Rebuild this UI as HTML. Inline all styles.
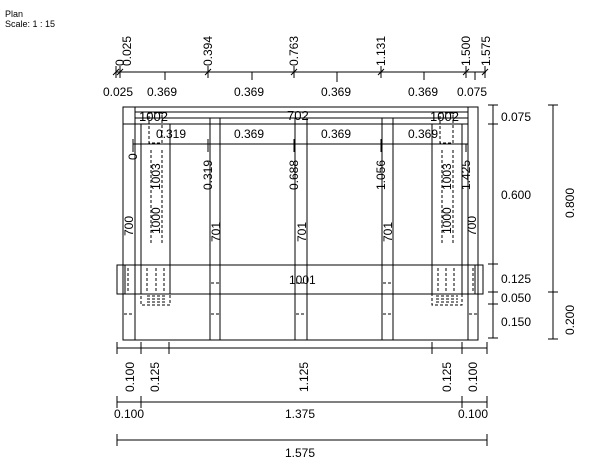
<!DOCTYPE html>
<html><head><style>body{margin:0;background:#fff}svg{display:block}text{font-family:"Liberation Sans",Arial,sans-serif;font-size:12px;fill:#000}</style></head><body>
<svg width="615" height="472" viewBox="0 0 615 472" xmlns="http://www.w3.org/2000/svg">
<text x="5" y="17" style="font-size:9px">Plan</text>
<text x="5" y="27" style="font-size:9px">Scale:  1 : 15</text>
<g stroke="#000" stroke-width="1" fill="none">
<line x1="116" y1="72" x2="486" y2="72"/>
<g>
<line x1="116" y1="66" x2="116" y2="78"/><line x1="113" y1="75" x2="119" y2="69"/>
<line x1="120" y1="66" x2="120" y2="78"/><line x1="117" y1="75" x2="123" y2="69"/>
<line x1="208" y1="66" x2="208" y2="78"/><line x1="205" y1="75" x2="211" y2="69"/>
<line x1="294" y1="66" x2="294" y2="78"/><line x1="291" y1="75" x2="297" y2="69"/>
<line x1="381" y1="66" x2="381" y2="78"/><line x1="378" y1="75" x2="384" y2="69"/>
<line x1="466" y1="66" x2="466" y2="78"/><line x1="463" y1="75" x2="469" y2="69"/>
<line x1="485" y1="66" x2="485" y2="78"/><line x1="482" y1="75" x2="488" y2="69"/>
<line x1="165" y1="72" x2="165" y2="80"/><line x1="252" y1="72" x2="252" y2="80"/><line x1="337" y1="72" x2="337" y2="82"/><line x1="424" y1="72" x2="424" y2="80"/><line x1="475" y1="72" x2="475" y2="80"/>
</g>
<rect x="123" y="107" width="355" height="233"/>
<line x1="135" y1="107" x2="135" y2="340"/>
<line x1="468" y1="107" x2="468" y2="340"/>
<line x1="135" y1="112" x2="468" y2="112"/>
<line x1="135" y1="118" x2="468" y2="118"/>
<line x1="135" y1="124" x2="468" y2="124"/>
<line x1="123" y1="124" x2="135" y2="124"/>
<rect x="210" y="118" width="10" height="222"/>
<rect x="295" y="118" width="12" height="222"/>
<rect x="382" y="118" width="11" height="222"/>
<rect x="141" y="124" width="29" height="170"/>
<rect x="432" y="124" width="30" height="170"/>
<g stroke-dasharray="3,2">
<rect x="149" y="113" width="13" height="30"/>
<rect x="440" y="113" width="13" height="30"/>
<line x1="151" y1="150" x2="151" y2="245"/><line x1="162" y1="150" x2="162" y2="245"/>
<line x1="442" y1="150" x2="442" y2="245"/><line x1="453" y1="150" x2="453" y2="245"/>
<rect x="141" y="294" width="29" height="11"/>
<rect x="432" y="294" width="30" height="11"/>
<line x1="147" y1="296" x2="167" y2="296"/><line x1="147" y1="299" x2="167" y2="299"/><line x1="147" y1="302" x2="167" y2="302"/>
<line x1="436" y1="296" x2="458" y2="296"/><line x1="436" y1="299" x2="458" y2="299"/><line x1="436" y1="302" x2="458" y2="302"/>
<line x1="128" y1="268" x2="128" y2="292"/><line x1="147" y1="268" x2="147" y2="292"/><line x1="156" y1="268" x2="156" y2="292"/><line x1="164" y1="268" x2="164" y2="292"/>
<line x1="438" y1="268" x2="438" y2="292"/><line x1="446" y1="268" x2="446" y2="292"/><line x1="454" y1="268" x2="454" y2="292"/><line x1="473" y1="268" x2="473" y2="292"/>
<line x1="124" y1="314" x2="134" y2="314"/><line x1="211" y1="283" x2="219" y2="283"/><line x1="211" y1="314" x2="219" y2="314"/>
<line x1="296" y1="283" x2="306" y2="283"/><line x1="296" y1="314" x2="306" y2="314"/>
<line x1="383" y1="283" x2="392" y2="283"/><line x1="383" y1="314" x2="392" y2="314"/>
<line x1="469" y1="314" x2="477" y2="314"/>
</g>
<line x1="117" y1="265" x2="483" y2="265"/>
<line x1="117" y1="294" x2="483" y2="294"/>
<rect x="117" y="265" width="8" height="29"/>
<rect x="475" y="265" width="8" height="29"/>
<line x1="133" y1="144" x2="468" y2="144"/>
<line x1="133" y1="139" x2="133" y2="149"/><line x1="208" y1="139" x2="208" y2="149"/><line x1="294" y1="139" x2="294" y2="149"/><line x1="381" y1="139" x2="381" y2="149"/><line x1="468" y1="139" x2="468" y2="149"/>
<line x1="133" y1="144" x2="133" y2="152"/><line x1="208" y1="144" x2="208" y2="152"/><line x1="294" y1="144" x2="294" y2="152"/><line x1="381" y1="144" x2="381" y2="152"/><line x1="466" y1="144" x2="466" y2="152"/>
<line x1="493" y1="105" x2="493" y2="338"/>
<line x1="488" y1="105" x2="498" y2="105"/><line x1="488" y1="124" x2="498" y2="124"/><line x1="488" y1="264" x2="498" y2="264"/><line x1="488" y1="292" x2="498" y2="292"/><line x1="488" y1="304" x2="498" y2="304"/><line x1="488" y1="338" x2="498" y2="338"/>
<line x1="553" y1="105" x2="553" y2="339"/>
<line x1="548" y1="105" x2="558" y2="105"/><line x1="548" y1="292" x2="558" y2="292"/><line x1="548" y1="339" x2="558" y2="339"/>
<line x1="117" y1="348" x2="487" y2="348"/>
<line x1="117" y1="342" x2="117" y2="354"/><line x1="141" y1="342" x2="141" y2="354"/><line x1="169" y1="342" x2="169" y2="354"/><line x1="432" y1="342" x2="432" y2="354"/><line x1="462" y1="342" x2="462" y2="354"/><line x1="487" y1="342" x2="487" y2="354"/>
<line x1="117" y1="402" x2="487" y2="402"/>
<line x1="117" y1="396" x2="117" y2="408"/><line x1="141" y1="396" x2="141" y2="408"/><line x1="462" y1="396" x2="462" y2="408"/><line x1="487" y1="396" x2="487" y2="408"/>
<line x1="117" y1="440" x2="487" y2="440"/>
<line x1="117" y1="434" x2="117" y2="446"/><line x1="487" y1="434" x2="487" y2="446"/>
</g>
<g style="font-size:13px">
<text transform="translate(124,66) rotate(-90)">0</text>
<text transform="translate(131,66) rotate(-90)">0.025</text>
<text transform="translate(212,66) rotate(-90)">0.394</text>
<text transform="translate(298,66) rotate(-90)">0.763</text>
<text transform="translate(385,66) rotate(-90)">1.131</text>
<text transform="translate(470,66) rotate(-90)">1.500</text>
<text transform="translate(490,66) rotate(-90)">1.575</text>
</g>
<text x="103" y="96">0.025</text>
<text x="147" y="96">0.369</text>
<text x="234" y="96">0.369</text>
<text x="321" y="96">0.369</text>
<text x="408" y="96">0.369</text>
<text x="457" y="96">0.075</text>
<text x="139" y="121" style="font-size:13px">1002</text>
<text x="287" y="120" style="font-size:13px">702</text>
<text x="430" y="121" style="font-size:13px">1002</text>
<text x="156" y="138">0.319</text>
<text x="234" y="138">0.369</text>
<text x="321" y="138">0.369</text>
<text x="408" y="138">0.369</text>
<g style="font-size:13px">
<text transform="translate(137,160) rotate(-90)">0</text>
<text transform="translate(212,190) rotate(-90)">0.319</text>
<text transform="translate(298,190) rotate(-90)">0.688</text>
<text transform="translate(385,190) rotate(-90)">1.056</text>
<text transform="translate(470,190) rotate(-90)">1.425</text>
<text transform="translate(160,190) rotate(-90)">1003</text>
<text transform="translate(160,234) rotate(-90)">1000</text>
<text transform="translate(451,190) rotate(-90)">1003</text>
<text transform="translate(451,234) rotate(-90)">1000</text>
<text transform="translate(133,236) rotate(-90)">700</text>
<text transform="translate(476,236) rotate(-90)">700</text>
<text transform="translate(220,242) rotate(-90)">701</text>
<text transform="translate(306,242) rotate(-90)">701</text>
<text transform="translate(392,242) rotate(-90)">701</text>
<text x="289" y="284">1001</text>
</g>
<text x="501" y="121">0.075</text>
<text x="501" y="199">0.600</text>
<text x="501" y="283">0.125</text>
<text x="501" y="302">0.050</text>
<text x="501" y="326">0.150</text>
<text transform="translate(574,218) rotate(-90)">0.800</text>
<text transform="translate(574,335) rotate(-90)">0.200</text>
<text transform="translate(134,392) rotate(-90)">0.100</text>
<text transform="translate(159,392) rotate(-90)">0.125</text>
<text transform="translate(308,392) rotate(-90)">1.125</text>
<text transform="translate(451,392) rotate(-90)">0.125</text>
<text transform="translate(477,392) rotate(-90)">0.100</text>
<text x="114" y="418">0.100</text>
<text x="285" y="418">1.375</text>
<text x="458" y="418">0.100</text>
<text x="285" y="457">1.575</text>
</svg>
</body></html>
